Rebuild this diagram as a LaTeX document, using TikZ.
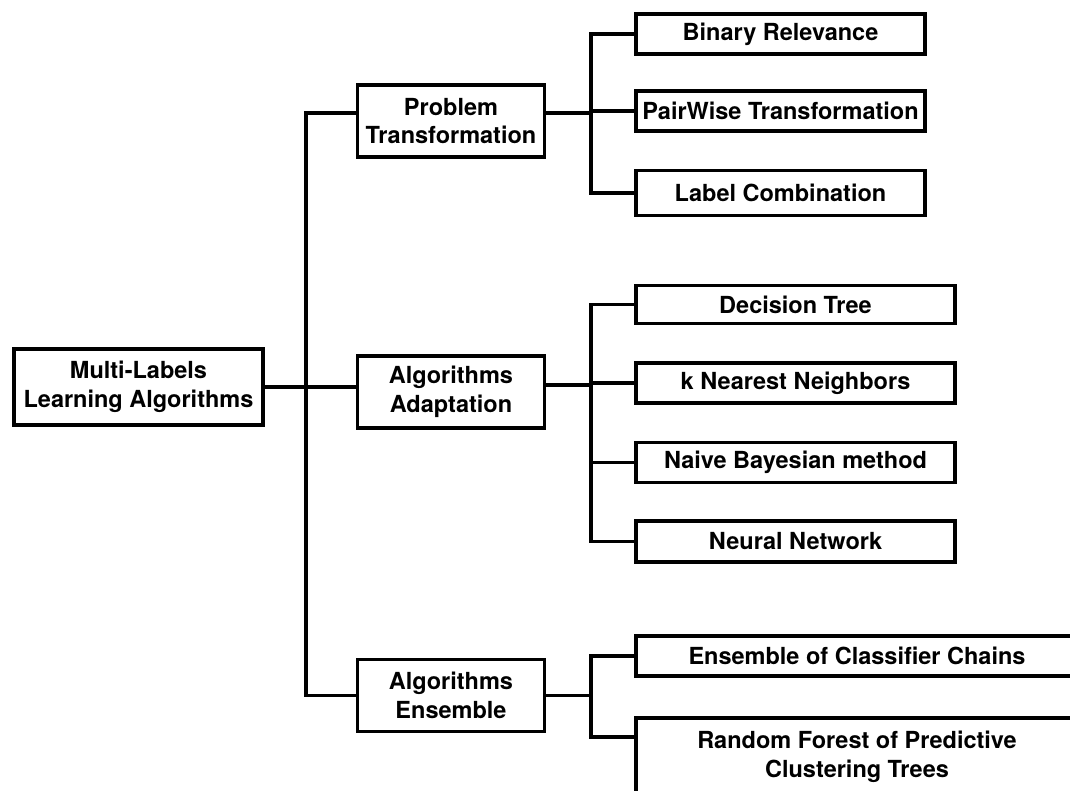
\documentclass[tikz,border=0pt]{standalone}
\usepackage{fontspec}
\setmainfont{TeX Gyre Heros}
\begin{document}
\begin{tikzpicture}[x=1pt,y=-1pt,
  box/.style={draw=black,line width=3.8pt,fill=white,inner sep=0pt,align=center,
    font=\fontsize{23.5}{28.5}\selectfont\bfseries},
  link/.style={draw=black,line width=3.6pt}]
\path[use as bounding box,clip] (0,0) rectangle (1070,791);
\fill[white] (0,0) rectangle (1070,791);

% bus lines
\coordinate (trunk) at (306,0);
\coordinate (bus) at (591,0);

% root
\node[box,minimum width=249pt,minimum height=76pt] (root) at (138.5,387) {Multi-Labels\\Learning Algorithms};

% second level
\node[box,minimum width=187pt,minimum height=72pt] (pt) at (451,121) {Problem\\Transformation};
\node[box,minimum width=187pt,minimum height=72pt] (aa) at (451,392) {Algorithms\\Adaptation};
\node[box,minimum width=187pt,minimum height=72pt] (ae) at (451,695.5) {Algorithms\\Ensemble};

% problem transformation leaves
\node[box,minimum width=289pt,minimum height=40pt] (br) at (780.5,34) {Binary Relevance};
\node[box,minimum width=289pt,minimum height=40pt] (pw) at (780.5,111) {PairWise Transformation};
\node[box,minimum width=289pt,minimum height=45pt] (lc) at (780.5,193) {Label Combination};

% algorithm adaptation leaves
\node[box,minimum width=319pt,minimum height=38pt] (dt) at (795.5,304.5) {Decision Tree};
\node[box,minimum width=319pt,minimum height=40pt] (knn) at (795.5,383) {k Nearest Neighbors};
\node[box,minimum width=319pt,minimum height=40pt] (nb) at (795.5,462.5) {Naive Bayesian method};
\node[box,minimum width=319pt,minimum height=41pt] (nn) at (795.5,541.5) {Neural Network};

% ensemble leaves
\node[box,minimum width=442pt,minimum height=40pt] (ec) at (857,656) {Ensemble of Classifier Chains};
\node[box,minimum width=442pt,minimum height=78pt] (rf) at (857,757) {Random Forest of Predictive\\Clustering Trees};

% attachment points
\coordinate (ptin) at ([yshift=8pt]pt.west);
\coordinate (ptout) at ([yshift=8pt]pt.east);
\coordinate (aain) at ([yshift=5pt]aa.west);
\coordinate (aaout) at ([yshift=7pt]aa.east);
\coordinate (rfin) at ([yshift=20pt]rf.west);

% trunk
\draw[link] (root.east) -- (aain);
\draw[link] (ptin) -| (trunk |- ae.west) -- (ae.west);

% problem transformation branch
\draw[link] (ptout) -- (bus |- ptout);
\draw[link] (br.west) -| (bus |- lc.west) -- (lc.west);
\draw[link] (pw.west) -- (bus |- pw.west);

% algorithm adaptation branch
\draw[link] (aaout) -- (bus |- aaout);
\draw[link] (dt.west) -| (bus |- nn.west) -- (nn.west);
\draw[link] (knn.west) -- (bus |- knn.west);
\draw[link] (nb.west) -- (bus |- nb.west);

% ensemble branch
\draw[link] (ae.east) -- (bus |- ae.east);
\draw[link] (ec.west) -| (bus |- rfin) -- (rfin);
\end{tikzpicture}
\end{document}
